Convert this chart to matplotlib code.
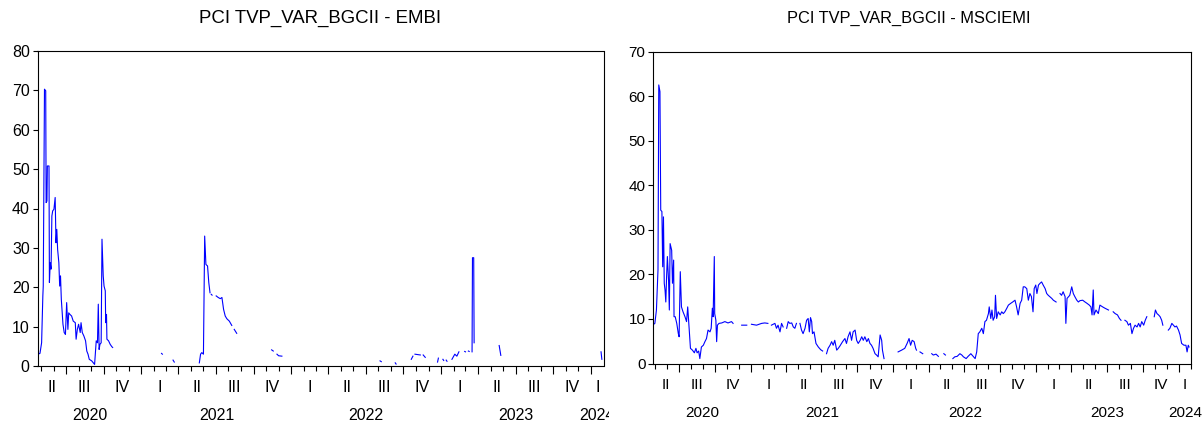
import matplotlib
matplotlib.use("Agg")
import matplotlib.pyplot as plt
import matplotlib.dates as mdates
import numpy as np
import pandas as pd
from matplotlib.transforms import Bbox

plt.rcParams['font.family'] = ['Liberation Sans', 'DejaVu Sans']

nan = np.nan

# PCI of TVP_VAR_BGCII vs EMBI (gaps = missing observations)
embi_dates = [
    "2020-04-24", "2020-04-29", "2020-05-03", "2020-05-06", "2020-05-07", "2020-05-10", "2020-05-13", "2020-05-14",
    "2020-05-16", "2020-05-17", "2020-05-21", "2020-05-22", "2020-05-24", "2020-05-26", "2020-05-28", "2020-05-30",
    "2020-06-02", "2020-06-05", "2020-06-07", "2020-06-09", "2020-06-11", "2020-06-14", "2020-06-16", "2020-06-18",
    "2020-06-20", "2020-06-24", "2020-06-27", "2020-06-30", "2020-07-03", "2020-07-06", "2020-07-08", "2020-07-11",
    "2020-07-15", "2020-07-19", "2020-07-24", "2020-07-26", "2020-07-29", "2020-08-01", "2020-08-05", "2020-08-07",
    "2020-08-10", "2020-08-14", "2020-08-18", "2020-08-21", "2020-08-24", "2020-08-27", "2020-09-02", "2020-09-06",
    "2020-09-09", "2020-09-13", "2020-09-16", "2020-09-18", "2020-09-20", "2020-09-22", "2020-09-25", "2020-09-27",
    "2020-09-30", "2020-10-02", "2020-10-05", "2020-10-06", "2020-10-08", "2020-10-09", "2020-10-13", "2020-10-17",
    "2020-10-21", "2020-10-23", "2020-10-26", "2021-02-19", "2021-02-21", "2021-02-23", "2021-03-19", "2021-03-22",
    "2021-03-25", "2021-05-22", "2021-05-25", "2021-05-28", "2021-06-01", "2021-06-04", "2021-06-07", "2021-06-11",
    "2021-06-14", "2021-06-17", "2021-06-18", "2021-06-20", "2021-06-22", "2021-06-25", "2021-07-02", "2021-07-07",
    "2021-07-12", "2021-07-16", "2021-07-20", "2021-07-24", "2021-07-28", "2021-08-03", "2021-08-09", "2021-08-12",
    "2021-08-15", "2021-08-21", "2021-08-24", "2021-08-28", "2021-09-01", "2021-09-04", "2021-09-07", "2021-09-11",
    "2021-09-14", "2021-11-14", "2021-11-18", "2021-11-21", "2021-11-27", "2021-12-01", "2021-12-09", "2021-12-12",
    "2022-08-05", "2022-08-08", "2022-08-10", "2022-09-11", "2022-09-13", "2022-09-15", "2022-10-20", "2022-10-24",
    "2022-10-26", "2022-10-29", "2022-11-11", "2022-11-14", "2022-11-18", "2022-11-23", "2022-11-26", "2022-12-23",
    "2022-12-25", "2022-12-28", "2023-01-05", "2023-01-07", "2023-01-10", "2023-01-13", "2023-01-15", "2023-01-20",
    "2023-01-27", "2023-02-03", "2023-02-08", "2023-02-13", "2023-02-18", "2023-02-27", "2023-03-01", "2023-03-04",
    "2023-03-08", "2023-03-10", "2023-03-13", "2023-03-17", "2023-03-18", "2023-03-21", "2023-03-22", "2023-03-25",
    "2023-05-22", "2023-05-26", "2023-05-30", "2024-01-25", "2024-01-27",
]
embi_values = [
    3.0, 3.2, 5.9, 17.8, 20.3, 70.3, 69.9, 41.5,
    41.9, 50.8, 50.8, 21.2, 26.2, 24.6, 38.1, 39.4,
    39.8, 42.8, 31.3, 34.7, 29.6, 26.2, 20.3, 22.9,
    16.9, 10.6, 8.5, 8.0, 16.1, 9.3, 13.5, 13.1,
    12.7, 11.4, 11.0, 6.8, 9.3, 10.6, 8.5, 11.0,
    8.5, 7.6, 6.4, 3.8, 3.0, 1.7, 1.3, 0.8,
    0.4, 6.4, 5.9, 15.7, 4.2, 5.5, 5.9, 32.2,
    22.9, 20.3, 19.1, 11.0, 13.1, 6.8, 6.4, 5.5,
    4.9, 4.7, nan, 3.2, 3.0, nan, 1.5, 1.0,
    nan, 0.8, 3.0, 3.4, 3.0, 33.0, 25.8, 25.4,
    21.2, 18.6, nan, 18.2, 18.0, nan, 17.8, 17.4,
    17.1, 17.4, 14.4, 12.7, 12.0, 11.4, 10.3, nan,
    9.3, 8.3, nan, 7.5, nan, 6.8, nan, 5.9,
    nan, 4.1, 3.8, nan, 3.0, 2.6, 2.5, nan,
    1.3, 1.1, nan, 0.8, 0.5, nan, 1.7, 2.5,
    nan, 3.0, 2.8, nan, 2.8, 2.2, nan, 1.0,
    2.0, nan, 1.7, 1.4, nan, 1.5, 1.2, nan,
    1.7, 3.0, 2.5, 3.6, nan, 3.7, 3.6, nan,
    3.8, 3.7, nan, 3.6, 27.5, 27.5, 5.9, nan,
    5.2, 2.7, nan, 3.6, 1.7,
]

# PCI of TVP_VAR_BGCII vs MSCIEMI
msci_dates = [
    "2020-04-28", "2020-05-01", "2020-05-05", "2020-05-09", "2020-05-11", "2020-05-14", "2020-05-16", "2020-05-19",
    "2020-05-21", "2020-05-23", "2020-05-25", "2020-05-27", "2020-05-29", "2020-05-31", "2020-06-02", "2020-06-05",
    "2020-06-07", "2020-06-09", "2020-06-13", "2020-06-15", "2020-06-18", "2020-06-19", "2020-06-22", "2020-06-26",
    "2020-06-30", "2020-07-02", "2020-07-05", "2020-07-08", "2020-07-12", "2020-07-17", "2020-07-21", "2020-07-24",
    "2020-07-28", "2020-07-31", "2020-08-05", "2020-08-10", "2020-08-14", "2020-08-17", "2020-08-21", "2020-08-24",
    "2020-08-28", "2020-09-02", "2020-09-06", "2020-09-10", "2020-09-14", "2020-09-19", "2020-09-22", "2020-09-25",
    "2020-09-27", "2020-09-30", "2020-10-01", "2020-10-04", "2020-10-06", "2020-10-08", "2020-10-12", "2020-10-19",
    "2020-10-27", "2020-11-04", "2020-11-13", "2020-11-17", "2020-11-24", "2020-12-09", "2020-12-22", "2020-12-28",
    "2021-01-03", "2021-01-16", "2021-01-29", "2021-02-06", "2021-02-14", "2021-02-18", "2021-02-23", "2021-03-04",
    "2021-03-08", "2021-03-12", "2021-03-17", "2021-03-21", "2021-03-25", "2021-03-30", "2021-04-03", "2021-04-07",
    "2021-04-11", "2021-04-16", "2021-04-20", "2021-04-24", "2021-04-28", "2021-05-03", "2021-05-07", "2021-05-11",
    "2021-05-15", "2021-05-20", "2021-05-24", "2021-05-28", "2021-05-31", "2021-06-03", "2021-06-06", "2021-06-08",
    "2021-06-12", "2021-06-17", "2021-06-23", "2021-06-29", "2021-07-04", "2021-07-09", "2021-07-14", "2021-07-18",
    "2021-07-23", "2021-07-27", "2021-07-31", "2021-08-04", "2021-08-09", "2021-08-13", "2021-08-17", "2021-08-24",
    "2021-08-30", "2021-09-03", "2021-09-07", "2021-09-12", "2021-09-16", "2021-09-20", "2021-09-25", "2021-09-29",
    "2021-10-03", "2021-10-08", "2021-10-12", "2021-10-16", "2021-10-20", "2021-10-25", "2021-10-29", "2021-11-02",
    "2021-11-06", "2021-11-10", "2021-11-15", "2021-11-19", "2021-11-23", "2021-11-28", "2021-12-02", "2021-12-04",
    "2021-12-08", "2021-12-12", "2022-01-13", "2022-01-22", "2022-01-30", "2022-02-05", "2022-02-10", "2022-02-14",
    "2022-02-18", "2022-02-23", "2022-02-27", "2022-03-01", "2022-03-05", "2022-03-10", "2022-03-17", "2022-03-22",
    "2022-04-09", "2022-04-13", "2022-04-20", "2022-04-26", "2022-04-30", "2022-05-10", "2022-05-14", "2022-05-20",
    "2022-06-02", "2022-06-07", "2022-06-13", "2022-06-20", "2022-06-25", "2022-06-29", "2022-07-06", "2022-07-11",
    "2022-07-18", "2022-07-24", "2022-07-29", "2022-08-02", "2022-08-06", "2022-08-10", "2022-08-15", "2022-08-19",
    "2022-08-23", "2022-08-27", "2022-09-01", "2022-09-03", "2022-09-07", "2022-09-10", "2022-09-13", "2022-09-17",
    "2022-09-19", "2022-09-22", "2022-09-26", "2022-10-01", "2022-10-05", "2022-10-09", "2022-10-13", "2022-10-18",
    "2022-10-22", "2022-10-28", "2022-11-02", "2022-11-08", "2022-11-12", "2022-11-16", "2022-11-21", "2022-11-25",
    "2022-11-29", "2022-12-03", "2022-12-08", "2022-12-12", "2022-12-16", "2022-12-20", "2022-12-24", "2022-12-27",
    "2022-12-31", "2023-01-03", "2023-01-07", "2023-01-11", "2023-01-15", "2023-01-19", "2023-01-24", "2023-01-28",
    "2023-02-01", "2023-02-05", "2023-02-10", "2023-02-14", "2023-02-21", "2023-02-25", "2023-03-03", "2023-03-07",
    "2023-03-11", "2023-03-16", "2023-03-18", "2023-03-21", "2023-03-25", "2023-03-28", "2023-04-02", "2023-04-06",
    "2023-04-10", "2023-04-15", "2023-04-19", "2023-04-23", "2023-04-30", "2023-05-06", "2023-05-11", "2023-05-17",
    "2023-05-21", "2023-05-24", "2023-05-27", "2023-05-29", "2023-06-03", "2023-06-09", "2023-06-13", "2023-06-20",
    "2023-06-26", "2023-07-05", "2023-07-10", "2023-07-17", "2023-07-22", "2023-07-28", "2023-08-02", "2023-08-06",
    "2023-08-10", "2023-08-16", "2023-08-21", "2023-08-25", "2023-08-30", "2023-09-03", "2023-09-07", "2023-09-11",
    "2023-09-16", "2023-09-20", "2023-09-24", "2023-09-28", "2023-10-03", "2023-10-07", "2023-10-11", "2023-10-20",
    "2023-10-30", "2023-11-02", "2023-11-06", "2023-11-10", "2023-11-14", "2023-11-18", "2023-11-21", "2023-11-27",
    "2023-12-05", "2023-12-09", "2023-12-14", "2023-12-18", "2023-12-22", "2023-12-26", "2023-12-31", "2024-01-04",
    "2024-01-08", "2024-01-14", "2024-01-19", "2024-01-22", "2024-01-25", "2024-01-27",
]
msci_values = [
    8.8, 9.0, 12.0, 21.0, 62.5, 61.0, 34.4, 34.1,
    21.7, 32.9, 18.0, 16.5, 13.8, 19.5, 24.0, 18.7,
    12.0, 26.9, 25.4, 18.0, 23.2, 10.5, 10.5, 9.0,
    6.7, 6.0, 20.6, 12.7, 11.6, 10.5, 9.4, 12.7,
    7.5, 3.4, 3.0, 2.4, 3.4, 2.4, 2.8, 1.1,
    3.7, 4.1, 4.9, 5.6, 7.5, 7.1, 7.9, 12.4,
    10.5, 24.0, 11.2, 9.7, 4.9, 8.6, 9.0, 9.1,
    9.4, 9.1, 9.4, 9.0, nan, 8.6, 8.6, nan,
    8.8, 8.6, 9.0, 9.1, 9.0, nan, 8.6, 9.0,
    7.9, 8.6, 7.1, 9.0, 8.2, nan, 7.9, 9.4,
    9.0, 9.1, 8.2, 7.9, 9.0, nan, 9.0, 7.5,
    6.7, 7.9, 9.7, 10.1, 7.1, 10.3, 9.4, 6.7,
    7.1, 4.5, 3.7, 3.1, 2.8, nan, 2.2, 3.4,
    4.1, 4.9, 4.1, 5.2, 3.0, 3.4, 3.9, 4.9,
    5.6, 4.5, 6.0, 7.1, 5.2, 7.1, 7.5, 5.2,
    4.5, 5.2, 6.0, 5.2, 6.0, 4.9, 5.6, 4.5,
    4.1, 3.4, 2.2, 1.9, 1.5, 6.4, 5.2, 3.0,
    1.1, nan, 2.6, 3.0, 3.4, 4.5, 5.6, 4.1,
    5.2, 4.9, 3.4, 3.0, nan, 2.6, 2.2, nan,
    2.2, 1.9, 2.1, 1.6, nan, 2.2, 1.9, nan,
    1.1, 1.5, 1.6, 2.2, 1.9, 1.5, 1.1, 1.6,
    2.2, 1.6, 1.1, 2.6, 6.7, 7.1, 7.9, 6.7,
    9.4, 9.7, 11.2, 12.7, 10.1, 12.0, 9.7, 10.5,
    15.3, 10.1, 11.6, 10.9, 11.6, 11.2, 11.6, 12.4,
    13.1, 13.5, 13.8, 14.2, 12.7, 10.9, 13.5, 14.2,
    17.2, 17.2, 16.8, 14.2, 15.7, 15.0, 11.6, 16.8,
    17.6, 15.7, 17.6, 18.0, 18.3, 17.6, 16.8, 15.7,
    15.3, 15.0, 14.6, 14.2, 13.8, nan, 15.7, 15.3,
    16.1, 15.0, 9.0, 14.6, 15.0, 15.3, 17.2, 15.7,
    15.0, 14.2, 13.8, 14.1, 14.2, 13.8, 13.5, 13.1,
    12.7, 10.9, 16.5, 10.9, 12.0, 11.2, 13.1, 12.7,
    12.4, 12.0, nan, 11.6, 11.2, 10.9, 10.1, 9.7,
    nan, 9.7, 9.4, 8.6, 9.0, 6.7, 7.9, 8.6,
    8.2, 9.0, 8.2, 9.4, 8.6, 9.7, 10.5, nan,
    10.5, 12.0, 11.2, 10.9, 10.5, 9.7, 8.6, nan,
    7.5, 7.9, 9.0, 8.6, 8.2, 8.4, 7.5, 6.4,
    4.5, 4.1, 4.1, 2.6, 4.1, 3.7,
]

quarter_names = ["I", "II", "III", "IV"]
quarter_starts = pd.date_range("2020-01-01", "2024-04-01", freq="QS")
year_starts = pd.date_range("2020-01-01", "2025-01-01", freq="YS")


def period_labels(ax, starts, names, xmin, xmax, offset, size, clip=None):
    # label sits in the middle of the visible part of each period
    for a, b, name in zip(starts[:-1], starts[1:], names):
        lo, hi = max(a, xmin), min(b, xmax)
        if hi <= lo:
            continue
        mid = lo + (hi - lo) / 2
        t = ax.annotate(name, xy=(mdates.date2num(mid), 0),
                        xycoords=("data", "axes fraction"),
                        xytext=(0, offset), textcoords="offset points",
                        ha="center", va="center", fontsize=size,
                        annotation_clip=False)
        if clip is not None:
            t.set_clip_box(clip)
            t.set_clip_on(True)


def draw_panel(ax, dates, values, title, title_x, title_size, label_size,
               ymax, start, end, clip=None):
    x = pd.to_datetime(dates)
    ax.plot(x, values, color="#0000ff", lw=0.8)

    xmin, xmax = pd.Timestamp(start), pd.Timestamp(end)
    ax.set_xlim(xmin, xmax)
    ax.set_ylim(0, ymax)
    ax.set_yticks(range(0, ymax + 1, 10))

    ax.xaxis.set_major_locator(mdates.MonthLocator(bymonth=[1, 4, 7, 10]))
    ax.xaxis.set_minor_locator(mdates.MonthLocator())
    ax.tick_params(axis="x", which="major", direction="out", length=6, width=0.8, labelbottom=False)
    ax.tick_params(axis="x", which="minor", direction="out", length=3.6, width=0.8)
    ax.tick_params(axis="y", direction="out", length=3.6, width=0.8, labelsize=label_size, pad=2)
    for s in ax.spines.values():
        s.set_linewidth(0.8)
        s.set_color("black")

    qnames = [quarter_names[(d.month - 1) // 3] for d in quarter_starts[:-1]]
    period_labels(ax, quarter_starts, qnames, xmin, xmax, -15.5, label_size)
    ynames = [str(d.year) for d in year_starts[:-1]]
    period_labels(ax, year_starts, ynames, xmin, xmax, -35.5, label_size, clip)

    ax.figure.text(title_x / 1204, 1 - 18 / 428, title,
                   ha="center", va="center", fontsize=title_size)


fig = plt.figure(figsize=(12.04, 4.28), dpi=100)
ax1 = fig.add_axes([37.5 / 1204, 62 / 428, 566 / 1204, 315 / 428])
ax2 = fig.add_axes([653.3 / 1204, 64.5 / 428, 537.7 / 1204, 312 / 428])

left_clip = Bbox.from_extents(0, 0, 609, 428)
draw_panel(ax1, embi_dates, embi_values, "PCI TVP_VAR_BGCII - EMBI", 320.5, 13.4, 11.5,
           80, "2020-04-23", "2024-01-31", clip=left_clip)
draw_panel(ax2, msci_dates, msci_values, "PCI TVP_VAR_BGCII - MSCIEMI", 909, 11.8, 11,
           70, "2020-04-27", "2024-02-01")

fig.savefig("out.png", dpi=100)
